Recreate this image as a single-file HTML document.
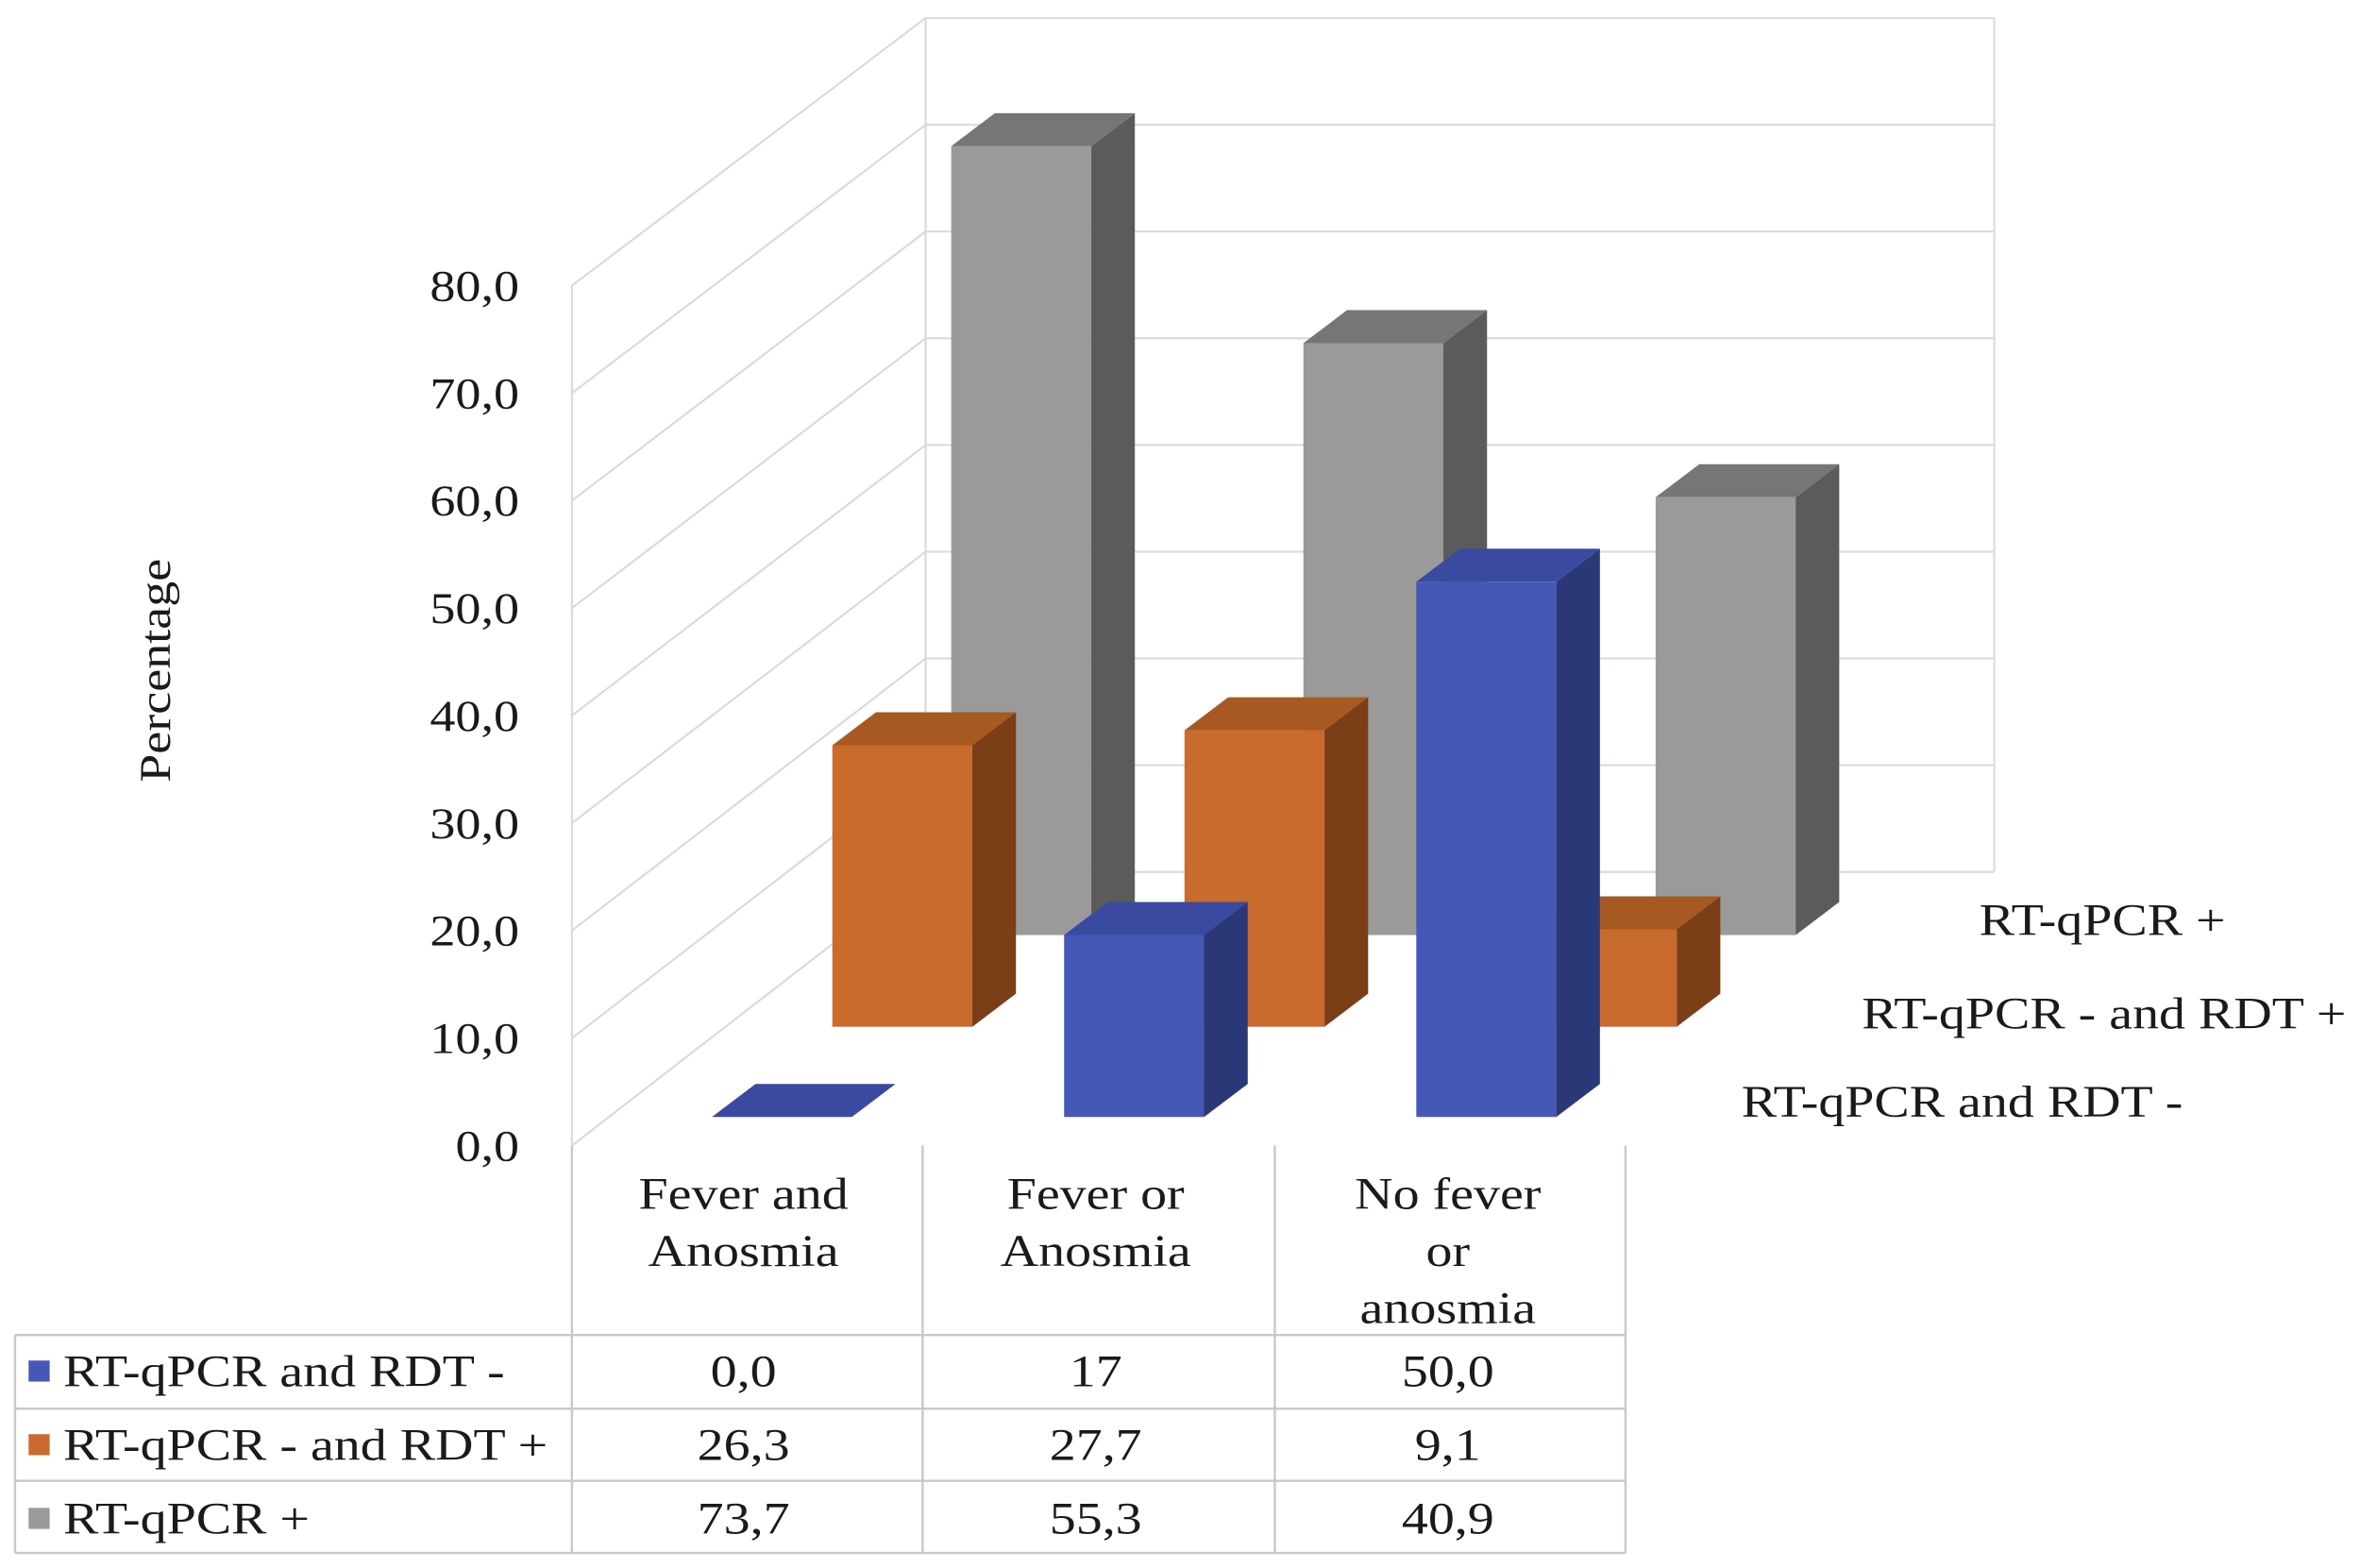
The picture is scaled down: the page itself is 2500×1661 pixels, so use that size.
<!DOCTYPE html>
<html><head><meta charset="utf-8"><style>
html,body{margin:0;padding:0;background:#fff;}
svg{display:block;}
text{font-family:"Liberation Serif",serif;fill:#1a1a1a;}
</style></head><body>
<svg id="chart" width="2500" height="1661" viewBox="0 0 1568 1043" preserveAspectRatio="none" xmlns="http://www.w3.org/2000/svg">
<g id="walls"></g>
<g id="bars"></g>
<g id="axis"></g>
<text x="0" y="0" font-size="29" text-anchor="middle" transform="translate(113,446) rotate(-90)">Percentage</text>
<g id="table"></g>
<g id="serieslabels"></g>
</svg>
<script>
const categories = [["Fever and","Anosmia"],["Fever or","Anosmia"],["No fever","or","anosmia"]];
const seriesNames = ["RT-qPCR and RDT -","RT-qPCR - and RDT +","RT-qPCR +"];
const seriesBlue = [0.0, 17, 50.0];
const seriesOrange = [26.3, 27.7, 9.1];
const seriesGray = [73.7, 55.3, 40.9];
const printedBlue = ["0,0","17","50,0"];
const printedOrange = ["26,3","27,7","9,1"];
const printedGray = ["73,7","55,3","40,9"];
const tickLabels = ["0,0","10,0","20,0","30,0","40,0","50,0","60,0","70,0","80,0"];
const tickValues = [0,10,20,30,40,50,60,70,80];

const NS="http://www.w3.org/2000/svg";
function mk(tag, attrs, parent){const e=document.createElementNS(NS,tag);for(const k in attrs)e.setAttribute(k,attrs[k]);parent.appendChild(e);return e;}
const PX=7.12;
const rowBase=[743,683,622];
const rowX=[473,553,632];
const colStep=234, barW=93, dX=29, dY=-22;
const colors=[["#4658b6","#2b3877","#3a4aa0"],["#c86b2d","#7a3f16","#a65a22"],["#9a9a9a","#5b5b5b","#767676"]];

const walls=document.getElementById('walls');
tickValues.forEach((t,i)=>{
  const yl=762-t*7.15, yb=580-t*7.1;
  const l=mk('line',{x1:380,y1:yl,x2:615,y2:yb,stroke:"#d9d9d9","stroke-width":1.3},walls);
  
  
  const b=mk('line',{x1:615,y1:yb,x2:1325,y2:yb,stroke:"#d9d9d9","stroke-width":1.3},walls);
  
  
});
mk('line',{x1:615,y1:12,x2:615,y2:580,stroke:"#d9d9d9","stroke-width":1.3},walls);
mk('line',{x1:1325,y1:12,x2:1325,y2:580,stroke:"#d9d9d9","stroke-width":1.3},walls);
mk('line',{x1:380,y1:762,x2:380,y2:190,stroke:"#d9d9d9","stroke-width":1.3},walls);

const bars=document.getElementById('bars');
const allSeries=[seriesBlue,seriesOrange,seriesGray];
for(let r=2;r>=0;r--){
  allSeries[r].forEach((v,c)=>{
    const x=rowX[r]+c*colStep, yb=rowBase[r], yt=yb-v*PX, x2=x+barW;
    const g=mk('g',{},bars);
    
    
    mk('polygon',{points:`${x2},${yb} ${x2+dX},${yb+dY} ${x2+dX},${yt+dY} ${x2},${yt}`,fill:colors[r][1]},g);
    mk('polygon',{points:`${x},${yt} ${x+dX},${yt+dY} ${x2+dX},${yt+dY} ${x2},${yt}`,fill:colors[r][2]},g);
    if(v>0) mk('rect',{x:x,y:yt,width:barW,height:yb-yt,fill:colors[r][0]},g);
  });
}

const axis=document.getElementById('axis');
tickValues.forEach((t,i)=>{
  const tx=mk('text',{x:345,y:762-t*7.15+10,"font-size":29,"text-anchor":"end"},axis);
  
  
  tx.textContent=tickLabels[i];
});

const tb=document.getElementById('table');
const ln=(x1,y1,x2,y2)=>mk('line',{x1,y1,x2,y2,stroke:"#c8c8c8","stroke-width":1.5},tb);
[380,613,847,1080].forEach(x=>ln(x,762,x,1033));
ln(10,888,10,1033);
[888,937,985,1033].forEach(y=>ln(10,y,1080,y));
categories.forEach((lines,c)=>{
  lines.forEach((s,j)=>{
    const t=mk('text',{x:494+c*234,y:804+j*38,"font-size":30,"text-anchor":"middle"},tb);
    
    
    t.textContent=s;
  });
});
const printed=[printedBlue,printedOrange,printedGray];
const rowY=[912,961,1010];
seriesNames.forEach((n,r)=>{
  mk('rect',{x:19,y:rowY[r]-7,width:14,height:14,fill:colors[r][0]},tb);
  const t=mk('text',{x:42,y:rowY[r]+10,"font-size":30},tb);
  
  
  t.textContent=n;
  printed[r].forEach((p,c)=>{
    const v=mk('text',{x:494+c*234,y:rowY[r]+10,"font-size":30,"text-anchor":"middle"},tb);
    
    
    v.textContent=p;
  });
});

const sl=document.getElementById('serieslabels');
const slPos=[[1157,743],[1237,684],[1315,622]];
seriesNames.forEach((n,r)=>{
  const t=mk('text',{x:slPos[r][0],y:slPos[r][1],"font-size":30},sl);
  
  
  t.textContent=n;
});

// widen all text to match the reference's wider serif face
document.querySelectorAll('text').forEach(t=>{
  const w=t.getComputedTextLength();
  if(w>0){t.setAttribute('textLength',(w*1.17).toFixed(1));t.setAttribute('lengthAdjust','spacingAndGlyphs');}
});
</script>
</body></html>
